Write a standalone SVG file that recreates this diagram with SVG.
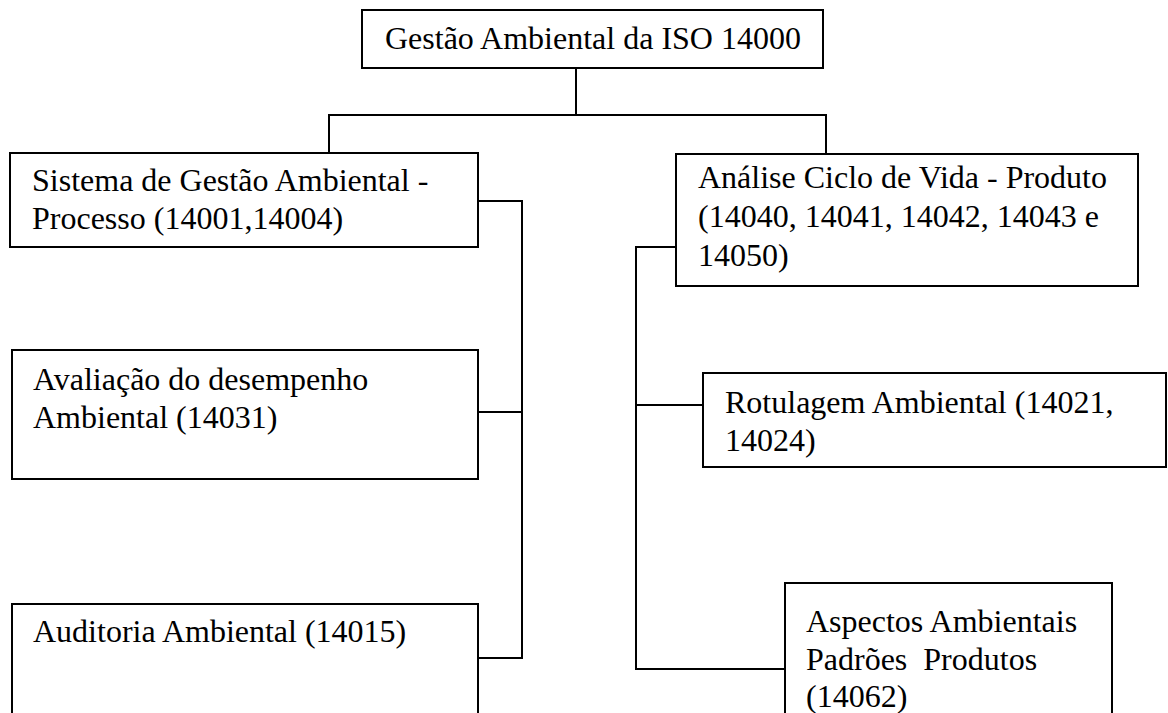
<svg xmlns="http://www.w3.org/2000/svg" width="1168" height="713" viewBox="0 0 1168 713">
<style>
.box{fill:#fff;stroke:#000;stroke-width:2}
.ln{fill:none;stroke:#000;stroke-width:2}
text{font-family:"Liberation Serif","Times New Roman",serif;font-size:32px;fill:#000}
</style>
<rect width="1168" height="713" fill="#fff"/>
<g id="connectors">
<polyline class="ln" points="576,68 576,115"/>
<polyline class="ln" points="329,153 329,115 826,115 826,154"/>
<polyline class="ln" points="478,201 522,201 522,658 478,658"/>
<polyline class="ln" points="478,412 522,412"/>
<polyline class="ln" points="676,247 636,247 636,669 785,669"/>
<polyline class="ln" points="636,405 703,405"/>
</g>
<g id="n-top"><rect class="box" x="362" y="10" width="461" height="58"/><text x="385" y="49">Gestão Ambiental da ISO 14000</text></g>
<g id="n-sga"><rect class="box" x="10" y="153" width="468" height="94"/><text x="32" y="191">Sistema de Gestão Ambiental -</text><text x="32" y="229">Processo (14001,14004)</text></g>
<g id="n-acv"><rect class="box" x="676" y="154" width="462" height="132"/><text x="698" y="188">Análise Ciclo de Vida - Produto</text><text x="698" y="227">(14040, 14041, 14042, 14043 e</text><text x="698" y="266">14050)</text></g>
<g id="n-ada"><rect class="box" x="12" y="350" width="466" height="129"/><text x="33" y="390">Avaliação do desempenho</text><text x="33" y="428">Ambiental (14031)</text></g>
<g id="n-rot"><rect class="box" x="703" y="373" width="463" height="94"/><text x="725" y="413">Rotulagem Ambiental (14021,</text><text x="725" y="451">14024)</text></g>
<g id="n-aud"><rect class="box" x="12" y="604" width="466" height="120"/><text x="33" y="642">Auditoria Ambiental (14015)</text></g>
<g id="n-asp"><rect class="box" x="785" y="583" width="327" height="140"/><text x="806" y="632">Aspectos Ambientais</text><text x="806" y="670">Padrões&#160; Produtos</text><text x="806" y="707">(14062)</text></g>
</svg>
